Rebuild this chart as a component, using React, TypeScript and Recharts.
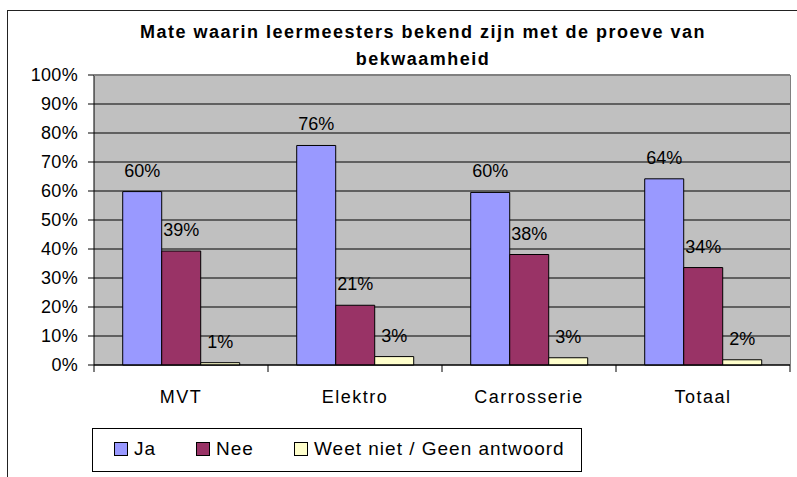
import React from 'react'
import {
  BarChart,
  Bar,
  XAxis,
  YAxis,
  CartesianGrid,
  LabelList,
} from 'recharts'

const categories = ['MVT', 'Elektro', 'Carrosserie', 'Totaal']
const ja = [59.8, 75.7, 59.5, 64.2]
const nee = [39.3, 20.6, 38.1, 33.6]
const weetNiet = [0.8, 2.9, 2.5, 1.8]
const yTicks = [0, 10, 20, 30, 40, 50, 60, 70, 80, 90, 100]

const seriesNames = ['Ja', 'Nee', 'Weet niet / Geen antwoord']
const seriesColors = ['#9999FF', '#993366', '#FFFFCC']

const data = categories.map((name, i) => ({
  name,
  ja: ja[i],
  nee: nee[i],
  weet: weetNiet[i],
}))

const FONT = '"Liberation Sans", Arial, sans-serif'
const fmt = (v: any) => `${Math.round(Number(v))}%`

// category label plus tick marks on the category boundaries
const CategoryTick = (props: any) => {
  const { x, y, payload, index, width, visibleTicksCount } = props
  const count = visibleTicksCount || categories.length
  const half = (width || 696) / count / 2
  return (
    <g>
      <line x1={x - half} x2={x - half} y1={y} y2={y + 7} stroke="#000" />
      {index === count - 1 && (
        <line x1={x + half} x2={x + half} y1={y} y2={y + 7} stroke="#000" />
      )}
      <text
        x={x}
        y={y + 38}
        textAnchor="middle"
        fill="#000"
        fontSize={18}
        fontFamily={FONT}
        letterSpacing={1.5}
      >
        {payload.value}
      </text>
    </g>
  )
}

export default function App() {
  return (
    <div
      style={{
        position: 'fixed',
        left: 0,
        top: 0,
        width: 797,
        height: 477,
        overflow: 'hidden',
        background: '#fff',
        fontFamily: FONT,
      }}
    >
      {/* chart frame, cut off right and bottom */}
      <div
        style={{
          position: 'absolute',
          left: 7,
          top: 10,
          width: 900,
          height: 600,
          border: '1px solid #222',
        }}
      />
      <div
        style={{
          position: 'absolute',
          left: 123,
          width: 600,
          top: 19,
          textAlign: 'center',
          fontWeight: 'bold',
          fontSize: 18,
          letterSpacing: 1.5,
          lineHeight: '27px',
          color: '#000',
        }}
      >
        Mate waarin leermeesters bekend zijn met de proeve van
        <br />
        bekwaamheid
      </div>

      <div style={{ position: 'absolute', left: 0, top: 0 }}>
        <BarChart
          width={797}
          height={477}
          data={data}
          margin={{ top: 75, right: 7, left: 34, bottom: 82 }}
          barCategoryGap="16.5%"
          barGap={0}
        >
          <CartesianGrid
            vertical={false}
            stroke="#000"
            fill="#C0C0C0"
            fillOpacity={1}
          />
          <XAxis
            dataKey="name"
            height={30}
            tickLine={false}
            tickSize={0}
            tickMargin={0}
            interval={0}
            axisLine={{ stroke: '#000' }}
            tick={<CategoryTick />}
          />
          <YAxis
            width={60}
            domain={[0, 100]}
            ticks={yTicks}
            interval={0}
            tickFormatter={(v) => `${v}%`}
            tickSize={6}
            tickMargin={10}
            tickLine={{ stroke: '#000' }}
            axisLine={{ stroke: '#000' }}
            tick={{ fill: '#000', fontSize: 18, fontFamily: FONT, letterSpacing: 0.3 }}
          />
          <Bar
            dataKey="ja"
            name={seriesNames[0]}
            fill={seriesColors[0]}
            stroke="#000"
            strokeWidth={1}
            isAnimationActive={false}
          >
            <LabelList dataKey="ja" position="top" offset={15} formatter={fmt} fill="#000" fontSize={18} fontFamily={FONT} />
          </Bar>
          <Bar
            dataKey="nee"
            name={seriesNames[1]}
            fill={seriesColors[1]}
            stroke="#000"
            strokeWidth={1}
            isAnimationActive={false}
          >
            <LabelList dataKey="nee" position="top" offset={15} formatter={fmt} fill="#000" fontSize={18} fontFamily={FONT} />
          </Bar>
          <Bar
            dataKey="weet"
            name={seriesNames[2]}
            fill={seriesColors[2]}
            stroke="#000"
            strokeWidth={1}
            isAnimationActive={false}
          >
            <LabelList dataKey="weet" position="top" offset={15} formatter={fmt} fill="#000" fontSize={18} fontFamily={FONT} />
          </Bar>
        </BarChart>
      </div>

      {/* gray top/right border of the plot area */}
      <div
        style={{
          position: 'absolute',
          left: 94,
          top: 75,
          width: 697,
          height: 290,
          borderTop: '1px solid #808080',
          borderRight: '1px solid #808080',
          boxSizing: 'border-box',
          pointerEvents: 'none',
        }}
      />

      {/* legend */}
      <div
        style={{
          position: 'absolute',
          left: 92,
          top: 428,
          width: 490,
          height: 44,
          border: '1px solid #000',
          boxSizing: 'border-box',
          background: '#fff',
        }}
      >
        {seriesNames.map((n, i) => (
          <div
            key={n}
            style={{
              position: 'absolute',
              left: [21, 103, 201][i],
              top: 9,
              display: 'flex',
              alignItems: 'center',
              fontSize: 19,
              letterSpacing: 1,
              color: '#000',
              whiteSpace: 'nowrap',
            }}
          >
            <span
              style={{
                display: 'inline-block',
                width: 12,
                height: 12,
                background: seriesColors[i],
                border: '1px solid #000',
                marginRight: 6,
              }}
            />
            {n}
          </div>
        ))}
      </div>
    </div>
  )
}
